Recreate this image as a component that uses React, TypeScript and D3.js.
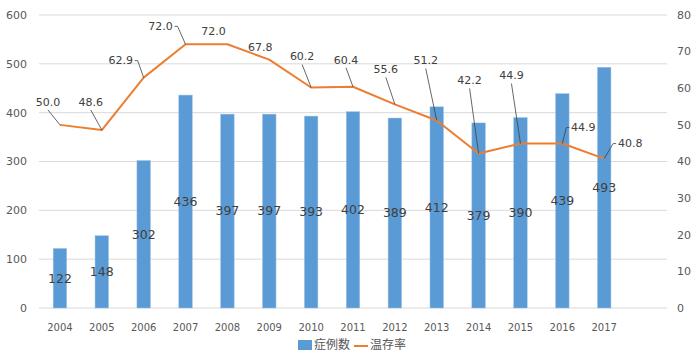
import React from "react";
import * as d3 from "d3";

const years = ["2004","2005","2006","2007","2008","2009","2010","2011","2012","2013","2014","2015","2016","2017"];
const cases = [122,148,302,436,397,397,393,402,389,412,379,390,439,493];
const rates = [50.0,48.6,62.9,72.0,72.0,67.8,60.2,60.4,55.6,51.2,42.2,44.9,44.9,40.8];
const leftTicks = [0,100,200,300,400,500,600];
const rightTicks = [0,10,20,30,40,50,60,70,80];
// label offsets (layout) relative to the line point
const labelOffsets: [number, number][] = [
  [-12,-23],[-11,-28],[-23,-17],[-25,-18],[-14,-13],[-9,-13],[-9,-31],
  [-7,-27],[-9,-35],[-11,-60],[-9,-73],[-9,-68],[21,-16],[26,-15]
];

const W = 700, H = 356;
const M = { left: 39, right: 667, top: 15, bottom: 308 };
const FONT = "'DejaVu Sans', Verdana, sans-serif";

export default function App() {
  const x = d3.scaleBand<string>()
    .domain([...years, ""])
    .range([M.left, M.right])
    .paddingInner(0).paddingOuter(0);
  const yL = d3.scaleLinear().domain([0, 600]).range([M.bottom, M.top]);
  const yR = d3.scaleLinear().domain([0, 80]).range([M.bottom, M.top]);
  const barW = 13.5;
  const cx = (y: string) => (x(y) as number) + x.bandwidth() / 2;
  const line = d3.line<number>()
    .x((_, i) => cx(years[i]))
    .y((d) => yR(d));

  return (
    <svg width={W} height={H} style={{ position: "absolute", left: 0, top: 0, background: "#fff" }}>
      {leftTicks.map((t) => (
        <line key={"g" + t} x1={M.left} x2={M.right} y1={yL(t)} y2={yL(t)} stroke="#D9D9D9" strokeWidth={1} />
      ))}
      {leftTicks.map((t) => (
        <text key={"l" + t} x={27} y={yL(t)} dy="0.35em" textAnchor="end" fontFamily={FONT} fontSize={11} fill="#595959">{t}</text>
      ))}
      {rightTicks.map((t) => (
        <text key={"r" + t} x={677} y={yR(t)} dy="0.35em" textAnchor="start" fontFamily={FONT} fontSize={11} fill="#595959">{t}</text>
      ))}
      {years.map((y) => (
        <text key={"x" + y} x={cx(y)} y={327} dy="0.35em" textAnchor="middle" fontFamily={FONT} fontSize={10} fill="#595959">{y}</text>
      ))}
      {cases.map((v, i) => (
        <rect key={"b" + i} x={cx(years[i]) - barW / 2} y={yL(v)} width={barW} height={yL(0) - yL(v)} fill="#5B9BD5" stroke="#9DC3E6" strokeWidth={0.5} />
      ))}
      {cases.map((v, i) => (
        <text key={"bl" + i} x={cx(years[i])} y={(yL(v) + yL(0)) / 2} dy="0.35em" textAnchor="middle" fontFamily={FONT} fontSize={12.5} fill="#404040">{v}</text>
      ))}
      <path d={line(rates) || ""} fill="none" stroke="#ED7D31" strokeWidth={2} strokeLinejoin="round" />
      {rates.map((v, i) => {
        const px = cx(years[i]);
        const py = yR(v);
        const [dx, dy] = labelOffsets[i];
        const lx = px + dx, ly = py + dy;
        const halfW = 12;
        const dist = Math.hypot(dx, dy);
        let leader: React.ReactNode = null;
        if (dist > 20) {
          if (Math.abs(dx) < 15) {
            leader = <polyline points={`${lx},${ly + 8} ${px},${py}`} fill="none" stroke="#404040" strokeWidth={0.8} />;
          } else if (dx < 0) {
            const sx = lx + halfW + 2;
            leader = <polyline points={`${sx},${ly} ${sx + 3},${ly} ${px},${py}`} fill="none" stroke="#404040" strokeWidth={0.8} />;
          } else {
            const sx = lx - halfW - 2;
            leader = <polyline points={`${sx},${ly} ${sx - 3},${ly} ${px},${py}`} fill="none" stroke="#404040" strokeWidth={0.8} />;
          }
        }
        return (
          <g key={"rl" + i}>
            {leader}
            <text x={lx} y={ly} dy="0.35em" textAnchor="middle" fontFamily={FONT} fontSize={11} fill="#404040">{v.toFixed(1)}</text>
          </g>
        );
      })}
      <g>
        <rect x={298} y={340} width={14} height={10} fill="#5B9BD5" />
        <text x={314} y={345} dy="0.35em" fontFamily="'Noto Sans CJK JP', sans-serif" fontSize={12} fill="#595959">症例数</text>
        <line x1={354} x2={368} y1={346} y2={346} stroke="#ED7D31" strokeWidth={2} />
        <text x={370} y={345} dy="0.35em" fontFamily="'Noto Sans CJK JP', sans-serif" fontSize={12} fill="#595959">温存率</text>
      </g>
    </svg>
  );
}
